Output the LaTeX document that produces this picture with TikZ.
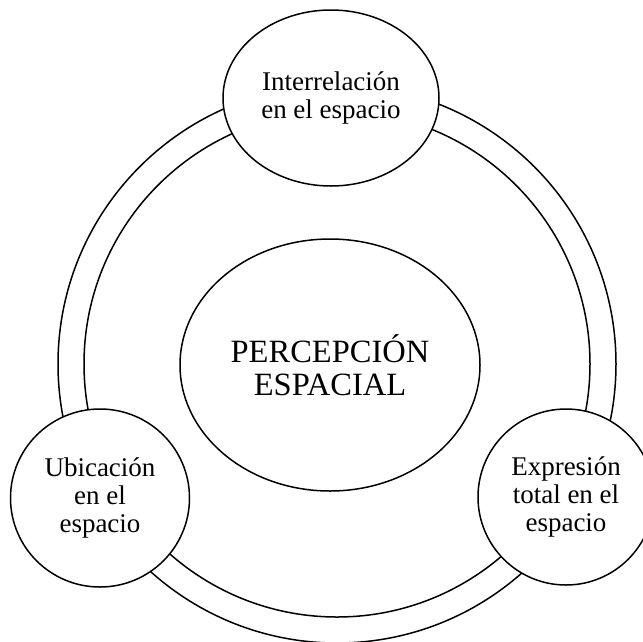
\documentclass[tikz,border=0pt]{standalone}
\usepackage{fontspec}
\setmainfont{Liberation Serif}
\usetikzlibrary{shapes.geometric}
\begin{document}
\begin{tikzpicture}[x=1pt,y=-1pt,
  ring/.style={circle, draw, line width=1.5pt, inner sep=0pt},
  bubble/.style={ellipse, draw, line width=1.5pt, fill=white, inner sep=0pt, align=center,
    font=\fontsize{27}{27.7}\selectfont},
  core/.style={ellipse, draw, line width=1.5pt, fill=white, inner sep=0pt, align=center,
    font=\fontsize{32.5}{33.5}\selectfont}]
\useasboundingbox (0,0) rectangle (643,641);
\clip (0,0) rectangle (643,641);
\node[ring, minimum size=558pt] (outer) at (337,364) {};
\node[ring, minimum size=506pt] (inner) at (337,364) {};
\node[core, minimum width=300pt, minimum height=252pt] (center) at (330,365) {PERCEPCIÓN\\ESPACIAL};
\node[bubble, minimum width=216pt, minimum height=176pt] (top) at (331,98) {Interrelación\\en el espacio};
\node[bubble, minimum width=179pt, minimum height=178pt] (left) at (100,498) {Ubicación\\en el\\espacio};
\node[bubble, minimum width=176pt, minimum height=176pt] (right) at (566,497) {Expresión\\total en el\\espacio};
\end{tikzpicture}
\end{document}
